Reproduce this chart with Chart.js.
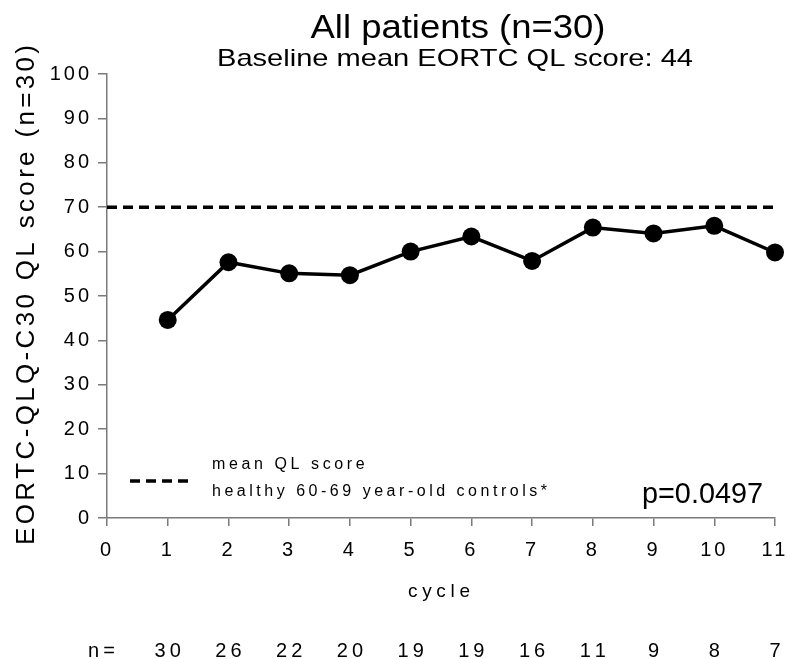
<!DOCTYPE html>
<html><head><meta charset="utf-8">
<script src="https://cdn.jsdelivr.net/npm/chart.js@4/dist/chart.umd.min.js"></script>
<style>html,body{margin:0;padding:0;background:#fff}#wrap{width:787px;height:659px;position:relative}</style>
</head><body><div id="wrap"><canvas id="c"></canvas></div>
<script>
// ---- data ----
const cycles = [1, 2, 3, 4, 5, 6, 7, 8, 9, 10, 11];
const qlScores = [44.6, 57.6, 55.1, 54.7, 60.0, 63.4, 57.9, 65.4, 64.1, 65.8, 59.8];
const patientsN = [30, 26, 22, 20, 19, 19, 16, 11, 9, 8, 7];
const controlMean = 70;
const xRange = [0, 11];
const yRange = [0, 100];
const titleText = 'All patients (n=30)';
const subtitleText = 'Baseline mean EORTC QL score: 44';
const yTitleText = 'EORTC-QLQ-C30 QL score (n=30)';
const xTitleText = 'cycle';
const legendLines = ['mean QL score', 'healthy 60-69 year-old controls*'];
const pValueText = 'p=0.0497';
const nPrefix = 'n=';

const FONT = '"Liberation Sans", Arial, Helvetica, sans-serif';
const AXIS_GREY = '#7a7a7a';

function spacedFit(ctx, text, x, y, opt) {
  const chars = [...text];
  const ws = chars.map(c => ctx.measureText(c).width);
  const nat = ws.reduce((a, b) => a + b, 0);
  const sp = opt.width != null ? (opt.width - nat) / Math.max(chars.length - 1, 1) : (opt.spacing || 0);
  const total = nat + sp * (chars.length - 1);
  let sx = opt.align === 'center' ? x - total / 2 : opt.align === 'right' ? x - total : x;
  ctx.textAlign = 'left';
  chars.forEach((c, i) => { ctx.fillText(c, sx, y); sx += ws[i] + sp; });
}
function stretched(ctx, text, cx, y, targetW) {
  ctx.textAlign = 'center';
  const w = ctx.measureText(text).width;
  ctx.save(); ctx.translate(cx, y); ctx.scale(targetW / w, 1);
  ctx.fillText(text, 0, 0); ctx.restore();
}

const decorPlugin = {
  id: 'decor',
  beforeDraw(chart) { chart.ctx.letterSpacing = '3px'; },
  beforeDatasetsDraw(chart) { chart.ctx.letterSpacing = '0px'; },
  afterDraw(chart) {
    const ctx = chart.ctx;
    const xs = chart.scales.x;
    ctx.save();
    ctx.letterSpacing = '0px';
    ctx.fillStyle = '#000';
    ctx.textBaseline = 'alphabetic';
    // titles
    ctx.font = '34px ' + FONT;
    stretched(ctx, titleText, 458, 38, 295);
    ctx.font = '24px ' + FONT;
    stretched(ctx, subtitleText, 455, 66, 476);
    // y title
    ctx.save();
    ctx.font = '26px ' + FONT;
    ctx.translate(34, 295);
    ctx.rotate(-Math.PI / 2);
    spacedFit(ctx, yTitleText, 0, 0, { width: 500, align: 'center' });
    ctx.restore();
    // x title
    ctx.font = '19px ' + FONT;
    spacedFit(ctx, xTitleText, 439, 597, { width: 62, align: 'center' });
    // n row
    ctx.font = '20px ' + FONT;
    spacedFit(ctx, nPrefix, 88, 657, { width: 27, align: 'left' });
    patientsN.forEach((n, i) => {
      spacedFit(ctx, String(n), xs.getPixelForValue(cycles[i]), 657, { spacing: 4, align: 'center' });
    });
    // legend
    ctx.save();
    ctx.strokeStyle = '#000'; ctx.lineWidth = 3.5; ctx.setLineDash([10, 6]);
    ctx.beginPath(); ctx.moveTo(130, 481); ctx.lineTo(190, 481); ctx.stroke();
    ctx.restore();
    ctx.font = '16px ' + FONT;
    spacedFit(ctx, legendLines[0], 212, 469, { spacing: 3.6, align: 'left' });
    spacedFit(ctx, legendLines[1], 212, 496, { width: 335, align: 'left' });
    // p value
    ctx.font = '30px ' + FONT;
    stretched(ctx, pValueText, 702.5, 503, 121);
    ctx.restore();
  }
};

const mainData = cycles.map((c, i) => ({ x: c, y: qlScores[i] }));
const refData = [{ x: xRange[0], y: controlMean }, { x: xRange[1], y: controlMean }];

new Chart(document.getElementById('c'), {
  type: 'line',
  data: {
    datasets: [
      {
        data: refData, borderColor: '#000', borderWidth: 3.5, borderDash: [10, 6],
        pointRadius: 0, fill: false, clip: false
      },
      {
        data: mainData, borderColor: '#000', borderWidth: 3.5, backgroundColor: '#000',
        pointRadius: 9, pointBackgroundColor: '#000', pointBorderColor: '#000', pointBorderWidth: 0,
        fill: false, clip: false, tension: 0
      }
    ]
  },
  options: {
    responsive: true, maintainAspectRatio: false, animation: false,
    layout: { padding: { top: 74, right: 12, left: 0, bottom: 0 } },
    plugins: { legend: { display: false }, tooltip: { enabled: false }, title: { display: false } },
    scales: {
      x: {
        type: 'linear', min: xRange[0], max: xRange[1],
        afterFit(s) { s.height = 141; s.paddingLeft = 0; s.paddingRight = 0; },
        ticks: { stepSize: 1, autoSkip: false, maxRotation: 0, minRotation: 0, padding: 12,
          color: '#000', font: { family: FONT, size: 20 } },
        grid: { drawOnChartArea: false, drawTicks: true, tickLength: 8, color: AXIS_GREY, lineWidth: 1.5 },
        border: { display: true, color: AXIS_GREY, width: 1.5 }
      },
      y: {
        min: yRange[0], max: yRange[1],
        afterFit(s) { s.width = 107; s.paddingTop = 0; s.paddingBottom = 0; },
        ticks: { stepSize: 10, padding: 6, color: '#000', font: { family: FONT, size: 20 } },
        grid: { drawOnChartArea: false, drawTicks: true, tickLength: 9, color: AXIS_GREY, lineWidth: 1.5 },
        border: { display: true, color: AXIS_GREY, width: 1.5 }
      }
    }
  },
  plugins: [decorPlugin]
});
</script>
</body></html>
